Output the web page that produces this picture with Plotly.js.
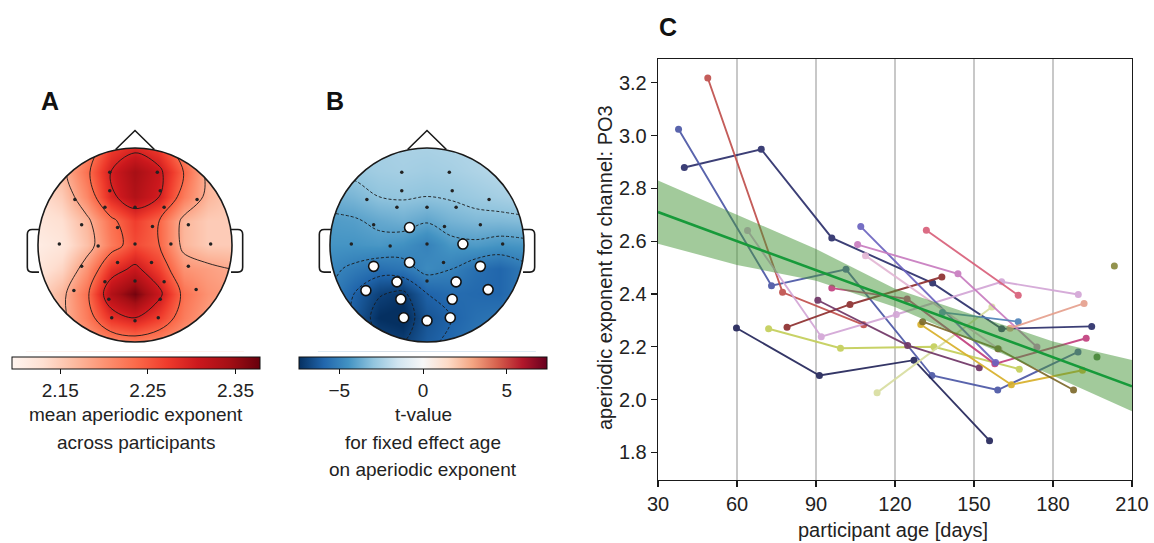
<!DOCTYPE html>
<html>
<head>
<meta charset="utf-8">
<script src="https://cdn.plot.ly/plotly-3.0.1.min.js"></script>
<style>html,body{margin:0;padding:0;background:#fff;}#chart{width:1154px;height:543px;}</style>
</head>
<body>
<div id="chart"></div>
<script>
// ---------------- DATA ----------------
// Topomap interpolation grid (head coordinates, head radius = 1)
const gridX = [-1, -0.75, -0.5, -0.25, 0, 0.25, 0.5, 0.75, 1];
const gridY = [-1, -0.75, -0.5, -0.25, 0, 0.25, 0.5, 0.75, 1];

// Panel A: mean aperiodic exponent across participants (rows = gridY from bottom to top)
const meanExponent = [
  [2.16, 2.17, 2.19, 2.21, 2.22, 2.21, 2.19, 2.18, 2.17],
  [2.15, 2.17, 2.22, 2.28, 2.30, 2.27, 2.22, 2.19, 2.18],
  [2.14, 2.17, 2.23, 2.33, 2.37, 2.31, 2.23, 2.20, 2.19],
  [2.12, 2.14, 2.20, 2.28, 2.31, 2.27, 2.20, 2.19, 2.18],
  [2.11, 2.12, 2.16, 2.22, 2.26, 2.24, 2.17, 2.15, 2.15],
  [2.12, 2.13, 2.17, 2.23, 2.27, 2.24, 2.17, 2.15, 2.15],
  [2.13, 2.15, 2.21, 2.29, 2.33, 2.30, 2.22, 2.17, 2.15],
  [2.14, 2.17, 2.23, 2.30, 2.34, 2.31, 2.24, 2.17, 2.15],
  [2.15, 2.16, 2.21, 2.27, 2.29, 2.27, 2.21, 2.16, 2.15]
];

// Panel B: t-values for fixed effect age
const tValues = [
  [-4.8, -5.8, -6.8, -7.0, -6.2, -5.8, -5.4, -5.1, -4.8],
  [-4.8, -6.2, -7.4, -7.6, -6.4, -6.0, -5.6, -5.4, -5.0],
  [-5.0, -6.0, -6.9, -7.2, -6.0, -5.7, -5.8, -5.9, -5.3],
  [-4.8, -5.2, -5.6, -5.4, -4.7, -5.0, -5.6, -5.9, -5.3],
  [-4.4, -4.4, -4.3, -4.5, -5.0, -4.3, -4.2, -4.4, -4.3],
  [-4.2, -4.1, -3.8, -3.6, -3.9, -3.5, -3.3, -3.3, -3.2],
  [-3.6, -3.4, -3.0, -2.9, -3.0, -2.9, -2.7, -2.5, -2.3],
  [-2.9, -2.8, -2.6, -2.5, -2.6, -2.5, -2.3, -2.1, -1.9],
  [-2.6, -2.6, -2.5, -2.4, -2.4, -2.3, -2.2, -2.0, -1.8]
];

// Electrode positions (head coordinates) and significance in panel B
const elecX = [-0.26, 0.23, -0.26, 0.26, -0.62, 0.64, -0.31, 0, 0.30, -0.55, -0.18, 0.18, 0.55, -0.78, -0.38, 0, 0.37, 0.78, -0.55, -0.18, 0.17, 0.55, -0.31, 0, 0.30, -0.63, 0.63, -0.27, 0.26, -0.24, 0, 0.24];
const elecY = [0.75, 0.75, 0.56, 0.56, 0.47, 0.47, 0.39, 0.39, 0.39, 0.21, 0.18, 0.19, 0.21, 0.01, -0.01, 0.01, 0.01, 0.01, -0.22, -0.18, -0.18, -0.22, -0.38, -0.37, -0.38, -0.47, -0.46, -0.56, -0.56, -0.75, -0.78, -0.75];
const elecSig = [0,0,0,0,0,0,0,0,0,0,1,0,0,0,0,0,1,0,1,1,0,1,1,0,1,1,1,1,1,1,1,1];

// Colorbar ticks
const cbTicksA = [2.15, 2.25, 2.35];
const cbTicksB = [-5, 0, 5];

// Panel C: participant trajectories (age in days, aperiodic exponent at PO3)
const p01Age = [40.0, 69.2, 96.0, 134.3, 160.5, 194.7];
const p01Exp = [2.879, 2.948, 2.612, 2.441, 2.268, 2.277];
const p02Age = [37.8, 73.1, 101.4, 134.0, 159.0, 189.5];
const p02Exp = [3.024, 2.431, 2.493, 2.091, 2.036, 2.180];
const p03Age = [59.8, 91.3, 127.2, 155.9];
const p03Exp = [2.271, 2.091, 2.149, 1.844];
const p04Age = [48.9, 77.3, 108.1];
const p04Exp = [3.218, 2.406, 2.283];
const p05Age = [64.0, 92.0, 120.5, 160.5, 189.6];
const p05Exp = [2.640, 2.238, 2.322, 2.446, 2.398];
const p06Age = [72.0, 99.3, 134.8, 167.2];
const p06Exp = [2.268, 2.194, 2.200, 2.115];
const p07Age = [113.2, 156.8];
const p07Exp = [2.026, 2.350];
const p08Age = [79.0, 102.9, 137.8];
const p08Exp = [2.274, 2.360, 2.464];
const p09Age = [90.7, 124.8, 152.0];
const p09Exp = [2.376, 2.205, 2.120];
const p10Age = [96.0, 124.6, 157.9, 192.6];
const p10Exp = [2.422, 2.381, 2.135, 2.232];
const p11Age = [107.0, 158.2];
const p11Exp = [2.655, 2.140];
const p12Age = [105.8, 143.9, 173.9];
const p12Exp = [2.587, 2.476, 2.199];
const p13Age = [108.8, 159.5];
const p13Exp = [2.545, 2.190];
const p14Age = [131.9, 166.8];
const p14Exp = [2.641, 2.395];
const p15Age = [129.8, 164.2, 191.2];
const p15Exp = [2.284, 2.056, 2.111];
const p16Age = [130.5, 159.1, 187.8];
const p16Exp = [2.295, 2.192, 2.036];
const p17Age = [138.0, 166.8];
const p17Exp = [2.330, 2.295];
const p18Age = [163.7, 191.8];
const p18Exp = [2.270, 2.364];
const p19Age = [196.7];
const p19Exp = [2.161];
const p20Age = [203.3];
const p20Exp = [2.506];

// Fixed-effect fit and confidence band
const trendAge = [30, 210];
const trendExp = [2.71, 2.05];
const bandAge = [30, 60, 90, 120, 150, 180, 210];
const bandUpper = [2.83, 2.70, 2.57, 2.42, 2.32, 2.22, 2.15];
const bandLower = [2.59, 2.51, 2.45, 2.35, 2.22, 2.09, 1.955];

const ageTicks = [30, 60, 90, 120, 150, 180, 210];
const expTicks = [1.8, 2.0, 2.2, 2.4, 2.6, 2.8, 3.0, 3.2];

// ---------------- STYLE ----------------
const participants = [
  [p01Age, p01Exp], [p02Age, p02Exp], [p03Age, p03Exp], [p04Age, p04Exp], [p05Age, p05Exp],
  [p06Age, p06Exp], [p07Age, p07Exp], [p08Age, p08Exp], [p09Age, p09Exp], [p10Age, p10Exp],
  [p11Age, p11Exp], [p12Age, p12Exp], [p13Age, p13Exp], [p14Age, p14Exp], [p15Age, p15Exp],
  [p16Age, p16Exp], [p17Age, p17Exp], [p18Age, p18Exp], [p19Age, p19Exp], [p20Age, p20Exp]
];
const participantColors = ['#2c2f6b', '#4c57a6', '#23255a', '#c0504d', '#d3a6d6',
  '#c4cf5a', '#d8dea0', '#8e2f2f', '#6f3566', '#c2407e',
  '#6b63c0', '#c87cc0', '#e3b6d4', '#d9607a', '#d8b02a',
  '#7d6a2c', '#4f82b8', '#e6a08e', '#4e7a3c', '#8a8a40'];

const FONT = 'Liberation Sans, Arial, Helvetica, sans-serif';
const TXT = '#222';
const W = 1154, H = 543;
const px = v => v / W;
const py = v => (H - v) / H;

const reds = [[0,'#fff5f0'],[0.125,'#fee0d2'],[0.25,'#fcbba1'],[0.375,'#fc9272'],[0.5,'#fb6a4a'],[0.625,'#ef3b2c'],[0.75,'#cb181d'],[0.875,'#a50f15'],[1,'#67000d']];
const rdbu = [[0,'#053061'],[0.1,'#2166ac'],[0.2,'#4393c3'],[0.3,'#92c5de'],[0.4,'#d1e5f0'],[0.5,'#f7f7f7'],[0.6,'#fddbc7'],[0.7,'#f4a582'],[0.8,'#d6604d'],[0.9,'#b2182b'],[1,'#67001f']];

function cbar(cx, ticks, fmt) {
  return {
    orientation: 'h', x: px(cx), xanchor: 'center', y: py(357), yanchor: 'top',
    len: 248, lenmode: 'pixels', thickness: 12, thicknessmode: 'pixels',
    outlinewidth: 1, outlinecolor: '#111', xpad: 0, ypad: 0,
    ticks: 'outside', ticklen: 5, tickcolor: '#111',
    tickvals: ticks, ticktext: ticks.map(fmt),
    tickfont: {family: FONT, size: 19, color: TXT}
  };
}

const traces = [];
// Panel A
traces.push({type: 'heatmap', x: gridX, y: gridY, z: meanExponent, zsmooth: 'best',
  colorscale: reds, zmin: 2.095, zmax: 2.378, xaxis: 'x', yaxis: 'y',
  colorbar: cbar(136, cbTicksA, v => v.toFixed(2)), hoverinfo: 'skip'});
traces.push({type: 'contour', x: gridX, y: gridY, z: meanExponent, xaxis: 'x', yaxis: 'y',
  autocontour: false, contours: {start: 2.18, end: 2.30, size: 0.06, coloring: 'none', showlines: true},
  line: {color: '#1a1a1a', width: 0.9, smoothing: 1}, showscale: false, hoverinfo: 'skip'});
traces.push({type: 'scatter', mode: 'markers', x: elecX, y: elecY, xaxis: 'x', yaxis: 'y',
  marker: {size: 3.5, color: '#222'}, hoverinfo: 'skip'});
// Panel B
traces.push({type: 'heatmap', x: gridX, y: gridY, z: tValues, zsmooth: 'best',
  colorscale: rdbu, zmin: -7.4, zmax: 7.4, xaxis: 'x2', yaxis: 'y2',
  colorbar: cbar(423, cbTicksB, v => (v < 0 ? '\u2212' + Math.abs(v) : String(v))), hoverinfo: 'skip'});
traces.push({type: 'contour', x: gridX, y: gridY, z: tValues, xaxis: 'x2', yaxis: 'y2',
  autocontour: false, contours: {start: -7, end: -2, size: 1, coloring: 'none', showlines: true},
  line: {color: '#1a1a1a', width: 0.9, dash: '3px,2px', smoothing: 1}, showscale: false, hoverinfo: 'skip'});
traces.push({type: 'scatter', mode: 'markers', xaxis: 'x2', yaxis: 'y2',
  x: elecX.filter((v, i) => !elecSig[i]), y: elecY.filter((v, i) => !elecSig[i]),
  marker: {size: 3.5, color: '#222'}, hoverinfo: 'skip'});
traces.push({type: 'scatter', mode: 'markers', xaxis: 'x2', yaxis: 'y2',
  x: elecX.filter((v, i) => elecSig[i]), y: elecY.filter((v, i) => elecSig[i]),
  marker: {size: 10, color: '#ffffff', line: {color: '#111', width: 1.6}}, hoverinfo: 'skip'});

// Panel C
participants.forEach((p, i) => {
  traces.push({type: 'scatter', mode: 'lines+markers', x: p[0], y: p[1], xaxis: 'x3', yaxis: 'y3',
    line: {color: participantColors[i], width: 1.9}, marker: {color: participantColors[i], size: 7},
    opacity: 0.92, hoverinfo: 'x+y'});
});
traces.push({type: 'scatter', mode: 'lines', xaxis: 'x3', yaxis: 'y3',
  x: bandAge.concat(bandAge.slice().reverse()), y: bandUpper.concat(bandLower.slice().reverse()),
  fill: 'toself', fillcolor: 'rgba(70,150,55,0.5)', line: {width: 0}, hoverinfo: 'skip'});
traces.push({type: 'scatter', mode: 'lines', xaxis: 'x3', yaxis: 'y3', x: trendAge, y: trendExp,
  line: {color: '#179a3a', width: 2.6}, hoverinfo: 'skip'});

// head drawing shapes
const K = 0.5523;
const circ = `M 1,0 C 1,${K} ${K},1 0,1 C -${K},1 -1,${K} -1,0 C -1,-${K} -${K},-1 0,-1 C ${K},-1 1,-${K} 1,0 Z`;
function headShapes(xr, yr) {
  const base = {xref: xr, yref: yr, layer: 'above'};
  return [
    Object.assign({type: 'path', path: 'M -1.5,-1.3 L 1.5,-1.3 L 1.5,1.5 L -1.5,1.5 Z ' + circ,
      fillcolor: '#ffffff', line: {width: 0}, fillrule: 'evenodd'}, base),
    Object.assign({type: 'circle', x0: -1, x1: 1, y0: -1, y1: 1, line: {color: '#1a1a1a', width: 1.6}}, base),
    Object.assign({type: 'path', path: 'M -0.2,0.985 L 0,1.18 L 0.2,0.985', line: {color: '#1a1a1a', width: 1.6}}, base),
    Object.assign({type: 'path', path: 'M -0.99,0.16 L -1.06,0.16 Q -1.11,0.16 -1.11,0.11 L -1.11,-0.23 Q -1.11,-0.28 -1.06,-0.28 L -0.99,-0.28', line: {color: '#1a1a1a', width: 1.6}}, base),
    Object.assign({type: 'path', path: 'M 0.99,0.16 L 1.06,0.16 Q 1.11,0.16 1.11,0.11 L 1.11,-0.23 Q 1.11,-0.28 1.06,-0.28 L 0.99,-0.28', line: {color: '#1a1a1a', width: 1.6}}, base)
  ];
}

const hidden = {visible: false, fixedrange: true};
const headYDomain = [py(351.7), py(118.9)];

function ann(text, x, y, opts) {
  return Object.assign({text: text, xref: 'paper', yref: 'paper', x: px(x), y: py(y),
    xanchor: 'center', yanchor: 'middle', showarrow: false, borderpad: 0,
    font: {family: FONT, size: 19, color: TXT}}, opts || {});
}

const layout = {
  width: W, height: H, margin: {l: 0, r: 0, t: 0, b: 0},
  paper_bgcolor: '#fff', plot_bgcolor: '#fff', showlegend: false,
  font: {family: FONT, color: TXT},
  xaxis: Object.assign({domain: [px(8.9), px(261.1)], range: [-1.3, 1.3], anchor: 'y'}, hidden),
  yaxis: Object.assign({domain: headYDomain, range: [-1.1, 1.3], anchor: 'x'}, hidden),
  xaxis2: Object.assign({domain: [px(300.9), px(553.1)], range: [-1.3, 1.3], anchor: 'y2'}, hidden),
  yaxis2: Object.assign({domain: headYDomain, range: [-1.1, 1.3], anchor: 'x2'}, hidden),
  xaxis3: {domain: [px(658), px(1132)], range: [30, 210], tickvals: ageTicks, anchor: 'y3',
    showgrid: true, gridcolor: '#c8c8c8', gridwidth: 2, zeroline: false,
    showline: true, mirror: true, linecolor: '#1a1a1a', linewidth: 1.3,
    ticks: 'outside', ticklen: 6, tickcolor: '#1a1a1a', tickwidth: 1.2,
    tickfont: {family: FONT, size: 20, color: TXT}},
  yaxis3: {domain: [py(480), py(59)], range: [1.695, 3.29], tickvals: expTicks, anchor: 'x3',
    ticktext: expTicks.map(v => v.toFixed(1)), showgrid: false, zeroline: false,
    showline: true, mirror: true, linecolor: '#1a1a1a', linewidth: 1.3,
    ticks: 'outside', ticklen: 6, tickcolor: '#1a1a1a', tickwidth: 1.2,
    tickfont: {family: FONT, size: 20, color: TXT}},
  shapes: headShapes('x', 'y').concat(headShapes('x2', 'y2')),
  annotations: [
    ann('<b>A</b>', 50, 101, {font: {family: FONT, size: 25, color: '#111'}}),
    ann('<b>B</b>', 335, 101, {font: {family: FONT, size: 25, color: '#111'}}),
    ann('<b>C</b>', 668, 27, {font: {family: FONT, size: 25, color: '#111'}}),
    ann('mean aperiodic exponent', 136, 414),
    ann('across participants', 136, 442),
    ann('t-value', 423, 414),
    ann('for fixed effect age', 423, 442),
    ann('on aperiodic exponent', 423, 469),
    ann('participant age [days]', 893, 530, {font: {family: FONT, size: 20, color: TXT}}),
    ann('aperiodic exponent for channel: PO3', 605, 268, {textangle: -90, font: {family: FONT, size: 20, color: TXT}})
  ]
};

Plotly.newPlot('chart', traces, layout, {staticPlot: true, displayModeBar: false});
</script>
</body>
</html>
